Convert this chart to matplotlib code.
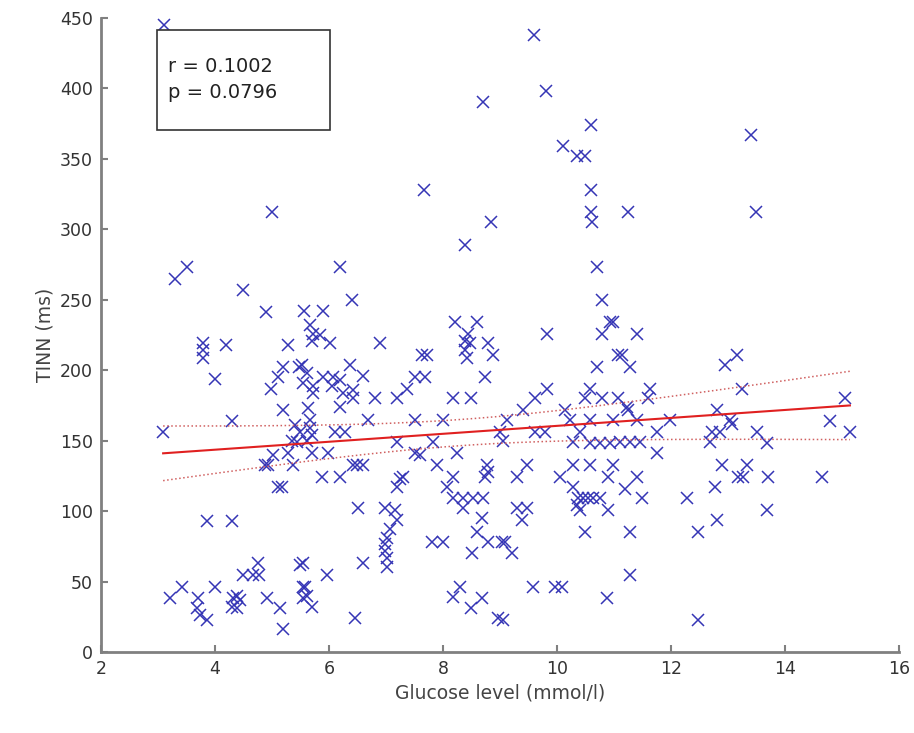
"""
TINN vs glucose level scatter with linear fit
"""
import numpy as np
import matplotlib
matplotlib.use("Agg")
import matplotlib.pyplot as plt
from matplotlib.patches import Rectangle

glucose = [
    3.1, 9.6, 9.8, 8.7, 13.4, 10.6, 10.1, 10.35, 10.5, 7.66, 10.6, 5.0, 10.6, 11.25, 13.5,
    8.85, 10.62, 8.39, 10.7, 3.51, 3.3, 6.19, 4.49, 6.4, 4.89, 5.56, 5.9, 10.79,
    3.79, 3.79, 3.79, 4.19, 5.28, 4.0, 5.19, 5.1, 4.99, 5.47, 4.3, 5.19, 3.09, 5.4, 5.5, 5.35,
    5.67, 5.72, 5.7, 5.84, 6.02, 6.9, 7.63, 7.72, 8.21, 8.6, 8.44, 8.39, 8.47, 8.39, 8.42,
    8.79, 8.88, 5.53, 5.61, 5.72, 5.54, 5.72, 5.9, 6.07, 6.19, 6.05, 6.37, 6.6, 6.42, 6.25,
    6.42, 6.19, 6.81, 7.19, 7.37, 7.51, 7.68, 8.18, 8.5, 8.74, 6.68, 7.51, 8.0, 6.1, 6.28,
    5.63, 5.67, 5.67, 5.7, 9.0,
    10.98, 10.93, 10.79, 11.4, 9.82, 11.07, 11.14, 10.7, 11.28, 9.82, 9.61, 9.4, 10.58,
    10.49, 10.79, 11.07, 11.25, 11.23, 11.63, 11.6, 10.14, 10.23, 9.12, 10.58, 10.98, 11.4,
    11.98, 9.61, 9.79, 10.4, 11.75,
    13.16, 12.95, 13.25, 15.05, 12.8, 13.04, 13.08, 12.72, 12.86, 13.51, 14.79, 15.14,
    4.88, 4.93, 5.02, 5.37, 5.28, 5.44, 5.1, 5.18, 3.86, 4.3, 4.75, 4.49, 4.67, 4.77, 3.42,
    3.21, 4.0, 3.7, 3.68, 3.74, 3.86, 4.32, 4.39, 4.44, 4.3, 4.39, 4.91, 5.14, 5.19, 5.49,
    5.54, 5.54,
    5.61, 5.7, 5.98, 6.42, 6.6, 6.49, 5.88, 6.19, 7.19, 7.51, 7.6, 7.9, 7.82, 8.25, 7.3,
    7.25, 7.19, 8.77, 8.79, 8.74, 8.18, 8.07, 8.18, 8.35, 8.53, 8.7, 8.35, 6.51, 6.98, 7.16,
    7.19, 7.07, 7.02, 6.98, 6.98, 7.02, 7.02, 8.68, 8.6, 8.79, 9.04, 8.51, 7.81, 8.0, 5.54,
    6.6, 5.96, 5.58, 5.61, 5.7, 6.46, 8.3, 8.18, 8.5, 8.68, 8.96,
    9.05, 10.28, 10.58, 10.75, 10.93, 11.1, 11.28, 11.46, 11.75, 9.47, 9.3, 10.28, 10.58,
    10.98, 10.89, 11.19, 11.4, 10.05, 10.28, 10.37, 10.46, 10.54, 10.63, 10.35, 10.4, 10.89,
    10.75, 11.49, 12.28, 9.3, 9.47, 9.39, 10.49, 11.28, 12.47, 9.09, 9.21, 9.58, 9.96, 10.09,
    11.28, 10.88, 9.05, 12.47,
    12.68, 13.68, 12.89, 13.33, 13.18, 13.26, 13.7, 14.65, 12.77, 13.68, 12.81,
]

tinn = [
    445, 438, 398, 390, 367, 374, 359, 352, 352, 328, 328, 312, 312, 312, 312,
    305, 305, 289, 273, 273, 265, 273, 257, 250, 241, 242, 242, 250,
    219, 214, 209, 218, 218, 194, 202, 195, 187, 202, 164, 172, 156, 161, 156, 150,
    232, 226, 221, 225, 219, 219, 211, 211, 234, 234, 226, 221, 219, 214, 209,
    219, 211, 204, 198, 189, 191, 184, 195, 195, 193, 189, 204, 196, 186, 184,
    180, 174, 180, 180, 187, 195, 195, 180, 180, 195, 165, 165, 165, 156, 156,
    173, 165, 159, 154, 156,
    234, 234, 226, 226, 226, 211, 211, 202, 202, 187, 180, 172, 187,
    180, 180, 180, 172, 174, 187, 180, 172, 165, 165, 165, 165, 165,
    165, 156, 156, 156, 156,
    211, 204, 187, 180, 172, 165, 162, 156, 156, 156, 164, 156,
    133, 133, 140, 133, 141, 149, 117, 117, 93, 93, 63, 55, 55, 55, 46,
    38, 46, 38, 31, 26, 23, 38, 40, 37, 32, 31, 38, 31, 16, 62,
    46, 38,
    150, 141, 141, 133, 133, 133, 124, 124, 149, 141, 140, 133, 149, 141, 124,
    123, 117, 133, 128, 124, 124, 117, 109, 109, 109, 109, 102, 102, 102, 101,
    94, 87, 81, 77, 72, 67, 60, 95, 85, 78, 78, 70, 78, 78, 63,
    63, 55, 46, 40, 32, 24, 46, 39, 31, 38, 24,
    150, 149, 148, 148, 148, 149, 149, 149, 141, 133, 124, 133, 133,
    133, 124, 116, 124, 124, 117, 109, 109, 109, 109, 104, 101, 101,
    109, 109, 109, 102, 102, 94, 85, 85, 85, 78, 70, 46, 46, 46,
    55, 38, 23, 23,
    149, 148, 133, 133, 124, 124, 124, 124, 117, 101, 94,
]

# fit line
fit_intercept = 132.3
fit_slope = 2.82
r_text = "r = 0.1002\np = 0.0796"

x = np.array(glucose)
y = np.array(tinn)

# 95% confidence band of the mean around the fit
n = len(x)
xf = np.linspace(x.min(), x.max(), 200)
yf = fit_intercept + fit_slope * xf
res = y - (fit_intercept + fit_slope * x)
s = np.sqrt(np.sum(res ** 2) / (n - 2))
se = s * np.sqrt(1.0 / n + (xf - x.mean()) ** 2 / np.sum((x - x.mean()) ** 2))
ci = 1.97 * se

fig = plt.figure(figsize=(9.14, 7.33), dpi=100)
ax = fig.add_axes([0.1105, 0.1105, 0.873, 0.865])

ax.plot(x, y, "x", color="#3535b5", markersize=9, markeredgewidth=1.1)
ax.plot(xf, yf, color="#e02020", linewidth=1.5)
ax.plot(xf, yf + ci, ":", color="#d06060", linewidth=1.1)
ax.plot(xf, yf - ci, ":", color="#d06060", linewidth=1.1)

ax.set_xlim(2, 16)
ax.set_ylim(0, 450)
ax.set_xticks(np.arange(2, 17, 2))
ax.set_yticks(np.arange(0, 451, 50))
ax.tick_params(direction="in", length=5, width=1.5, color="#808080",
               labelsize=12.5, labelcolor="#333333", pad=6)
for side in ["top", "right"]:
    ax.spines[side].set_visible(False)
for side in ["left", "bottom"]:
    ax.spines[side].set_color("#808080")
    ax.spines[side].set_linewidth(2)

ax.set_xlabel("Glucose level (mmol/l)", fontsize=13.5, color="#444444")
ax.set_ylabel("TINN (ms)", fontsize=13.5, color="#444444")

ax.add_patch(Rectangle((0.070, 0.823), 0.217, 0.158, transform=ax.transAxes,
                       facecolor="white", edgecolor="#333333", linewidth=1.2, zorder=5))
ax.text(0.084, 0.903, r_text, transform=ax.transAxes, fontsize=14, va="center",
        ha="left", color="#222222", linespacing=1.5, zorder=6)

fig.savefig("out.png", dpi=100)
